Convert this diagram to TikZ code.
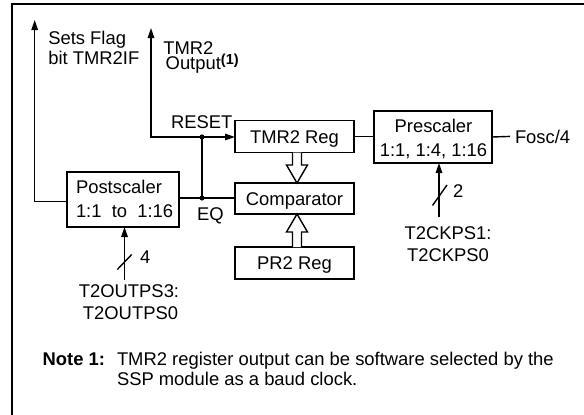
\documentclass[tikz,border=0pt]{standalone}
\usepackage{fontspec}
\setmainfont{Liberation Sans}
\usetikzlibrary{arrows.meta}
\begin{document}
\begin{tikzpicture}[x=1pt,y=-1pt,
  every node/.style={inner sep=0pt, outer sep=0pt, font=\fontsize{18.4}{22}\selectfont},
  blk/.style={draw, line width=1.8pt, minimum width=#1},
  conn/.style={line width=1.4pt},
  arr/.style={conn, -{Triangle[length=10pt,width=6.5pt]}},
  hollow/.style={draw, line width=1.4pt, fill=white},
  dot/.style={circle, fill, minimum size=5.2pt},
  lbl/.style={anchor=base west},
  clbl/.style={anchor=base}
]
\useasboundingbox (0,0) rectangle (584,415);
% frame
\draw[line width=1.8pt] (12,4.3) rectangle (620,440);

% blocks
\node[blk=112pt, minimum height=55pt] (post) at (123,199.5) {};
\node[blk=118pt, minimum height=52pt] (pre) at (433,137) {};
\node[blk=119pt, minimum height=32pt, text height=13.2pt, text depth=0pt] (tmr) at (294.5,136.5) {TMR2 Reg};
\node[blk=119pt, minimum height=31pt, text height=13.2pt, text depth=0pt] (comp) at (294.5,198.5) {Comparator};
\node[blk=119pt, minimum height=32pt, text height=13.2pt, text depth=0pt] (pr2) at (294.5,263) {PR2 Reg};

% block texts
\node[lbl] (posta) at (76,193) {Postscaler};
\node[lbl] (postb) at (76,217) {1:1\ \ to\ \ 1:16};
\node[clbl] (prea) at (433.5,132) {Prescaler};
\node[clbl] (preb) at (433.5,156) {1:1, 1:4, 1:16};

% labels
\node[lbl] (flag1) at (48.3,44.5) {Sets Flag};
\node[lbl] (flag2) at (48.3,64.5) {bit TMR2IF};
\node[anchor=north west, align=left] (outlbl) at (163.3,41.8)
  {TMR2\\[-7.5pt]\hspace{2.4pt}Output\raisebox{5pt}{\fontsize{14.5}{15}\selectfont\bfseries(1)}};
\node[lbl] (reset) at (171,128) {RESET};
\node[lbl] (eqlbl) at (197,220) {EQ};
\node[lbl, text height=13.2pt, text depth=0pt] (fosc) at (515,143) {Fosc/4};
\node[lbl] (four) at (140,263) {4};
\node[lbl] (two) at (453,197) {2};
\node[clbl] (outps3) at (129,297) {T2OUTPS3:};
\node[clbl] (outps0) at (130.5,319) {T2OUTPS0};
\node[clbl] (ckps1) at (448,239) {T2CKPS1:};
\node[clbl] (ckps0) at (448,261) {T2CKPS0};
\node[lbl] (note) at (42.7,365) {\bfseries Note 1:};
\node[lbl] (notea) at (117,365) {TMR2 register output can be software selected by the};
\node[lbl] (noteb) at (117,385) {SSP module as a baud clock.};

% junctions and coordinates
\node[dot] (jr) at (202,137) {};
\node[dot] (eq) at (202,198) {};
\coordinate (outcorner) at (151,137);
\coordinate (outtip) at (151,28);
\coordinate (flagcorner) at (34.7,201.5);
\coordinate (flagtip) at (34.7,20);
\coordinate (postin) at (124.5,280);
\coordinate (prein) at (439,217);

% connectors
\draw[conn] (post.east |- eq) -- (eq.center) -- (comp.west |- eq);
\draw[conn] (eq.center) -- (jr.center);
\draw[arr] (jr.center) -- (tmr.west |- jr);
\draw[arr] (jr.center) -- (outcorner) -- (outtip);
\draw[arr] ([yshift=-2pt]post.west) -- (flagcorner) -- (flagtip);
\draw[conn] (tmr.east) -- (pre.west |- tmr.east);
\draw[conn] (pre.east) -- ([xshift=-5pt]fosc.west);
\draw[arr] (postin) -- (post.south -| postin);
\draw[arr] (prein) -- (pre.south -| prein);

% bus width marks
\draw[conn] (117.3,269.5) -- (131.7,254.5);
\draw[conn] (432.5,205.5) -- (447,185);

% hollow arrows
\draw[hollow] (292.5,152.5) -- (292.5,165) -- (286.5,165) -- (297,183) -- (307.5,165) -- (301.5,165) -- (301.5,152.5);
\draw[hollow] (292.5,247) -- (292.5,232) -- (286.5,232) -- (297,214) -- (307.5,232) -- (301.5,232) -- (301.5,247);
\end{tikzpicture}
\end{document}
